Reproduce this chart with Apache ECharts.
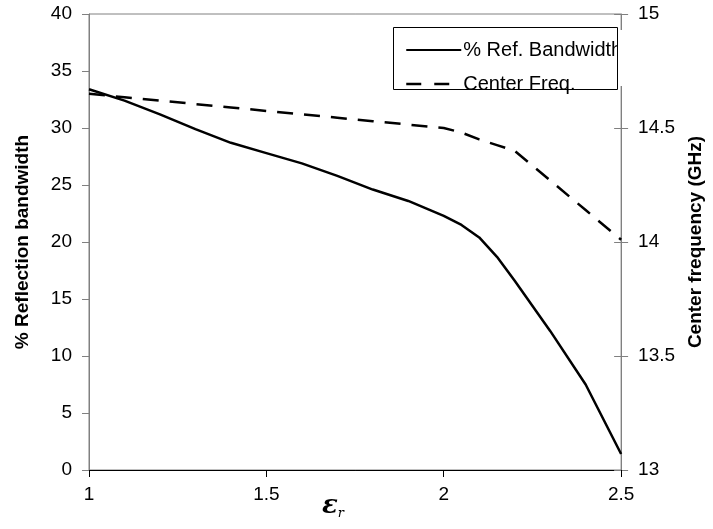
<!DOCTYPE html>
<html>
<head>
<meta charset="utf-8">
<script src="https://cdn.jsdelivr.net/npm/echarts@6/dist/echarts.min.js"></script>
<style>
html,body{margin:0;padding:0;background:#fff;}
#chart{width:713px;height:529px;}
</style>
</head>
<body>
<div id="chart"></div>
<script>
// Data
var epsR = [1.0,1.1,1.2,1.3,1.4,1.5,1.6,1.7,1.8,1.9,2.0,2.05,2.1,2.15,2.2,2.3,2.4,2.5];
var bandwidth = [33.4,32.4,31.2,29.9,28.7,27.8,26.9,25.8,24.6,23.6,22.3,21.5,20.4,18.7,16.6,12.2,7.5,1.4];
var centerFreq = [14.65,14.635,14.62,14.605,14.59,14.575,14.56,14.545,14.53,14.515,14.50,14.48,14.45,14.425,14.40,14.27,14.14,14.01];
var xTicks = [1, 1.5, 2, 2.5];
var leftTicks = [0,5,10,15,20,25,30,35,40];
var rightTicks = [13,13.5,14,14.5,15];
var seriesNames = ['% Ref. Bandwidth', 'Center Freq.'];

var chart = echarts.init(document.getElementById('chart'), null, {renderer:'canvas'});
var font = 'Liberation Sans, Arial, sans-serif';
var gray = '#808080';

function pairs(xs, ys){ return xs.map(function(x,i){return [x, ys[i]];}); }

var option = {
  backgroundColor:'#fff',
  animation:false,
  grid:{left:89, right:74, top:14, bottom:59, show:true, borderColor:gray, borderWidth:1, backgroundColor:'transparent'},
  legend:{
    orient:'vertical', left:400, top:35,
    itemWidth:55, itemHeight:14, itemGap:14,
    itemStyle:{opacity:0},
    textStyle:{fontFamily:font, fontSize:20, color:'#000', padding:[0,0,0,-3]},
    data:[
      {name:seriesNames[0]},
      {name:seriesNames[1], lineStyle:{type:[15,13], width:2.5, color:'#000'}}
    ]
  },
  graphic:[
    {type:'rect', left:393, top:27, shape:{width:224, height:62}, style:{fill:'#fff', stroke:'#000', lineWidth:1}, z:-1},
    {type:'rect', left:618, top:30, shape:{width:19, height:56}, style:{fill:'#fff'}, z:50},
    {type:'text', left:322, top:493, style:{
      rich:{
        e:{fontFamily:'DejaVu Serif, serif', fontSize:26, fontWeight:'bold', fontStyle:'italic', fill:'#000'},
        r:{fontFamily:'DejaVu Serif, serif', fontSize:13, fontStyle:'italic', fill:'#000', padding:[16,0,0,0]}
      },
      text:'{e|ε}{r|r}'
    }}
  ],
  xAxis:{
    type:'value', min:xTicks[0], max:xTicks[xTicks.length-1], interval:0.5,
    axisLine:{lineStyle:{color:'#000', width:1}},
    axisTick:{show:true, length:7, lineStyle:{color:'#000'}},
    axisLabel:{fontFamily:font, fontSize:19, color:'#000', margin:15,
      formatter:function(v){return xTicks.indexOf(v)>=0 ? String(v) : '';}},
    splitLine:{show:false}
  },
  yAxis:[
    {
      type:'value', position:'left', min:0, max:40, interval:5,
      name:'% Reflection bandwidth', nameLocation:'middle', nameGap:57, nameRotate:90,
      nameTextStyle:{fontFamily:font, fontSize:19, fontWeight:'bold', color:'#000'},
      axisLine:{show:true, lineStyle:{color:gray, width:1}},
      axisTick:{show:true, length:7, lineStyle:{color:gray}},
      axisLabel:{fontFamily:font, fontSize:19, color:'#000', margin:17,
        formatter:function(v){return leftTicks.indexOf(v)>=0 ? String(v) : '';}},
      splitLine:{show:false}
    },
    {
      type:'value', position:'right', min:13, max:15, interval:0.5,
      name:'Center frequency (GHz)', nameLocation:'middle', nameGap:48, nameRotate:90,
      nameTextStyle:{fontFamily:font, fontSize:19, fontWeight:'bold', color:'#000'},
      axisLine:{show:true, lineStyle:{color:gray, width:1}},
      axisTick:{show:true, length:7, lineStyle:{color:gray}},
      axisLabel:{fontFamily:font, fontSize:19, color:'#000', margin:17,
        formatter:function(v){return rightTicks.indexOf(v)>=0 ? String(v) : '';}},
      splitLine:{show:false}
    },
    {
      type:'value', position:'right', min:13, max:15, interval:0.5,
      axisLine:{show:false},
      axisTick:{show:true, inside:true, length:7, lineStyle:{color:gray}},
      axisLabel:{show:false}, splitLine:{show:false}
    }
  ],
  series:[
    {
      name:seriesNames[0], type:'line', yAxisIndex:0, symbol:'none', smooth:false,
      lineStyle:{color:'#000', width:2.5, type:'solid'},
      itemStyle:{color:'#000'},
      data:pairs(epsR, bandwidth)
    },
    {
      name:seriesNames[1], type:'line', yAxisIndex:1, symbol:'none', smooth:false,
      lineStyle:{color:'#000', width:2.5, type:[16,11]},
      itemStyle:{color:'#000'},
      data:pairs(epsR, centerFreq)
    }
  ]
};
chart.setOption(option);
</script>
</body>
</html>
